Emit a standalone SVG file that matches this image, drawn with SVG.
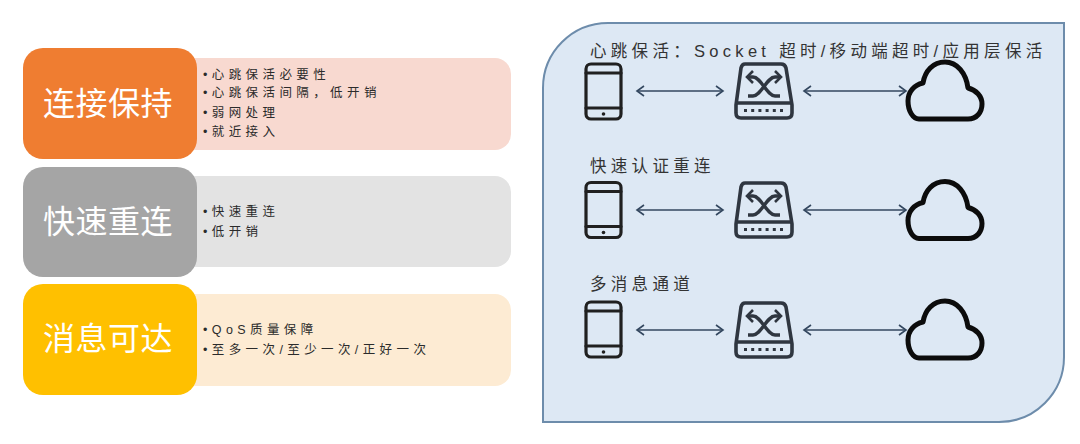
<svg xmlns="http://www.w3.org/2000/svg" width="1080" height="444" viewBox="0 0 1080 444">
<style>
text{font-family:"Liberation Sans","Noto Sans CJK SC",sans-serif}
.h{font-family:"Noto Sans CJK SC",sans-serif;font-size:32px;fill:#fff;text-anchor:middle;letter-spacing:.5px}
.b{font-size:12.5px;fill:#2b2b2b;letter-spacing:4.4px}
.t{font-size:16.5px;fill:#333;letter-spacing:4.3px}
.ic{fill:none;stroke:#202020;stroke-width:3.2;stroke-linejoin:round;stroke-linecap:round}
.sw{fill:none;stroke:#2f3640;stroke-width:3.6;stroke-linejoin:round;stroke-linecap:round}
.c{stroke:#33475f;stroke-width:1.5;fill:none}
</style>
<defs>
<marker id="a" markerUnits="userSpaceOnUse" markerWidth="10" markerHeight="12" refX="8" refY="6" orient="auto-start-reverse"><path d="M1 1L8 6L1 11" fill="none" stroke="#33475f" stroke-width="1.6"/></marker>
<g id="phone"><rect class="ic" x="586" y="64" width="35" height="55" rx="5"/><path class="ic" d="M586 73H621M586 108H621"/><circle cx="603.500" cy="114" r="1.800" fill="#202020"/></g>
<g id="switch"><path class="sw" d="M745 64H781Q785 64 786 68L792 105V113Q792 118 787 118H741Q736 118 736 113V105L741 68Q742 64 745 64Z"/><path class="sw" d="M737 103H791"/><path d="M748 77H753C761 77 767 96 775 96H780M780 77H775C767 77 761 96 753 96H748" fill="none" stroke="#2f3640" stroke-width="3.400"/><path d="M753 71L747 77L753 83M775 71L781 77L775 83" fill="none" stroke="#2f3640" stroke-width="2.600"/><path d="M744 110.500H784" stroke="#2f3640" stroke-width="3" stroke-dasharray="3 4.200"/></g>
<g id="cloud"><path d="M919 119H968C977 119 982 112 982 104C982 96 976 90 968 88C966 73 957 62 945 62C933 62 925 71 923 83C914 85 908 92 908 101C908 111 913 119 919 119Z" fill="none" stroke="#0c0c0c" stroke-width="5" stroke-linejoin="round"/></g>
</defs>
<rect width="1080" height="444" fill="#fff"/>
<g id="group-1">
<rect x="180" y="58" width="331" height="92" rx="16" fill="#f8d9d0"/>
<rect x="23" y="48" width="174" height="111" rx="20" fill="#ef7d31"/>
<text class="h" x="108" y="115">连接保持</text>
<text class="b" x="203" y="79">•心跳保活必要性</text>
<text class="b" x="203" y="97">•心跳保活间隔，低开销</text>
<text class="b" x="203" y="117">•弱网处理</text>
<text class="b" x="203" y="136">•就近接入</text>
</g>
<g id="group-2">
<rect x="180" y="176" width="331" height="91" rx="16" fill="#e3e3e3"/>
<rect x="23" y="167" width="174" height="110" rx="20" fill="#a5a5a5"/>
<text class="h" x="108" y="233">快速重连</text>
<text class="b" x="203" y="216">•快速重连</text>
<text class="b" x="203" y="236">•低开销</text>
</g>
<g id="group-3">
<rect x="180" y="294" width="331" height="92" rx="16" fill="#fdebd3"/>
<rect x="23" y="284" width="174" height="111" rx="20" fill="#ffc000"/>
<text class="h" x="108" y="350">消息可达</text>
<text class="b" x="203" y="334">•QoS质量保障</text>
<text class="b" x="203" y="354">•至多一次/至少一次/正好一次</text>
</g>
<g id="panel">
<path d="M608 23H1064V357A65 65 0 0 1 999 422H543V88A65 65 0 0 1 608 23Z" fill="#dde8f4" stroke="#6d8cab" stroke-width="2"/>
<text class="t" x="590" y="57">心跳保活：Socket 超时/移动端超时/应用层保活</text>
<text class="t" x="590" y="172">快速认证重连</text>
<text class="t" x="590" y="290">多消息通道</text>
</g>
<g id="device-1"><use href="#phone"/></g>
<g id="switch-1"><use href="#switch"/></g>
<g id="cloud-1"><use href="#cloud"/></g>
<g id="device-2"><use href="#phone" y="118.500"/></g>
<g id="switch-2"><use href="#switch" y="119"/></g>
<g id="cloud-2"><use href="#cloud" y="119.500"/></g>
<g id="device-3"><use href="#phone" y="238"/></g>
<g id="switch-3"><use href="#switch" y="239"/></g>
<g id="cloud-3"><use href="#cloud" y="239"/></g>
<g id="connectors">
<path class="c" d="M637 91H723" marker-start="url(#a)" marker-end="url(#a)"/>
<path class="c" d="M804 91H906" marker-start="url(#a)" marker-end="url(#a)"/>
<path class="c" d="M637 210H723" marker-start="url(#a)" marker-end="url(#a)"/>
<path class="c" d="M804 210H906" marker-start="url(#a)" marker-end="url(#a)"/>
<path class="c" d="M637 330H723" marker-start="url(#a)" marker-end="url(#a)"/>
<path class="c" d="M804 330H906" marker-start="url(#a)" marker-end="url(#a)"/>
</g>
</svg>
